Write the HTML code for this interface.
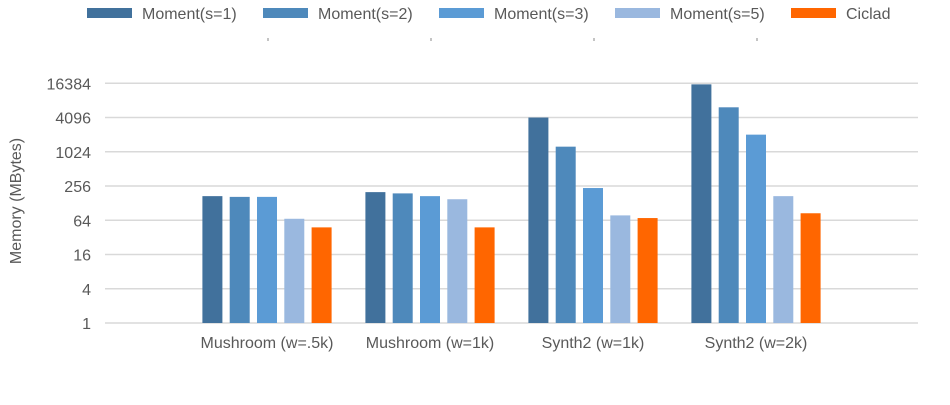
<!DOCTYPE html>
<html><head><meta charset="utf-8"><style>
body{margin:0;background:#fff;width:950px;height:400px;overflow:hidden;font-family:"Liberation Sans",sans-serif}
</style></head><body>
<svg id="chart" width="950" height="400" xmlns="http://www.w3.org/2000/svg" font-family="Liberation Sans, sans-serif"></svg>
<script>
const categories=["Mushroom (w=.5k)","Mushroom (w=1k)","Synth2 (w=1k)","Synth2 (w=2k)"];
const seriesNames=["Moment(s=1)","Moment(s=2)","Moment(s=3)","Moment(s=5)","Ciclad"];
const s1=[170,200,4096,15700];
const s2=[165,190,1260,6200];
const s3=[165,170,236,2050];
const s5=[68,150,78,170];
const ciclad=[48,48,70,85];
const tickValues=[1,4,16,64,256,1024,4096,16384];
const series=[s1,s2,s3,s5,ciclad];
const colors=["#41719c","#4e89bb","#5b9bd5","#9ab8df","#ff6600"];
const svg=document.getElementById('chart');
const NS="http://www.w3.org/2000/svg";
function mk(t,a,p){const e=document.createElementNS(NS,t);for(const k in a)e.setAttribute(k,a[k]);(p||svg).appendChild(e);return e;}
const y0=323,yTop=83.3;
function y(v){return y0-(Math.log2(v)/14)*(y0-yTop);}
function cx(i){return 267+i*163;}
const L=105,R=918;
tickValues.forEach(v=>{
  const g=mk('line',{x1:L,x2:R,y1:y(v),y2:y(v),stroke:'#d9d9d9','stroke-width':1.5});
  
  
  const t=mk('text',{x:91,y:y(v)+6,'text-anchor':'end','font-size':16,fill:'#595959'});
  t.textContent=v;
  
  
});
[268,431,594,757].forEach(x=>{
  const m=mk('line',{x1:x,x2:x,y1:38,y2:41,stroke:'#888','stroke-width':1});
  
  
});
categories.forEach((c,i)=>{
  series.forEach((s,j)=>{
    const x=cx(i)+(j-2)*27.3-10;
    const r=mk('rect',{x:x,y:y(s[i]),width:20,height:y0-y(s[i]),fill:colors[j]});
    
    
  });
  const t=mk('text',{x:cx(i),y:348,'text-anchor':'middle','font-size':16,fill:'#595959'});
  t.textContent=c;
  
  
});
const yt=mk('text',{transform:'translate(21,201) rotate(-90)','text-anchor':'middle','font-size':16,fill:'#595959'});
yt.textContent='Memory (MBytes)';


const lx=[87,263,439,615,791];
seriesNames.forEach((n,j)=>{
  const g=mk('g',{});
  
  
  mk('rect',{x:lx[j],y:8,width:45,height:10,fill:colors[j]},g);
  const t=mk('text',{x:lx[j]+55,y:19,'font-size':16,fill:'#595959'},g);
  t.textContent=n;
});
</script>
</body></html>
